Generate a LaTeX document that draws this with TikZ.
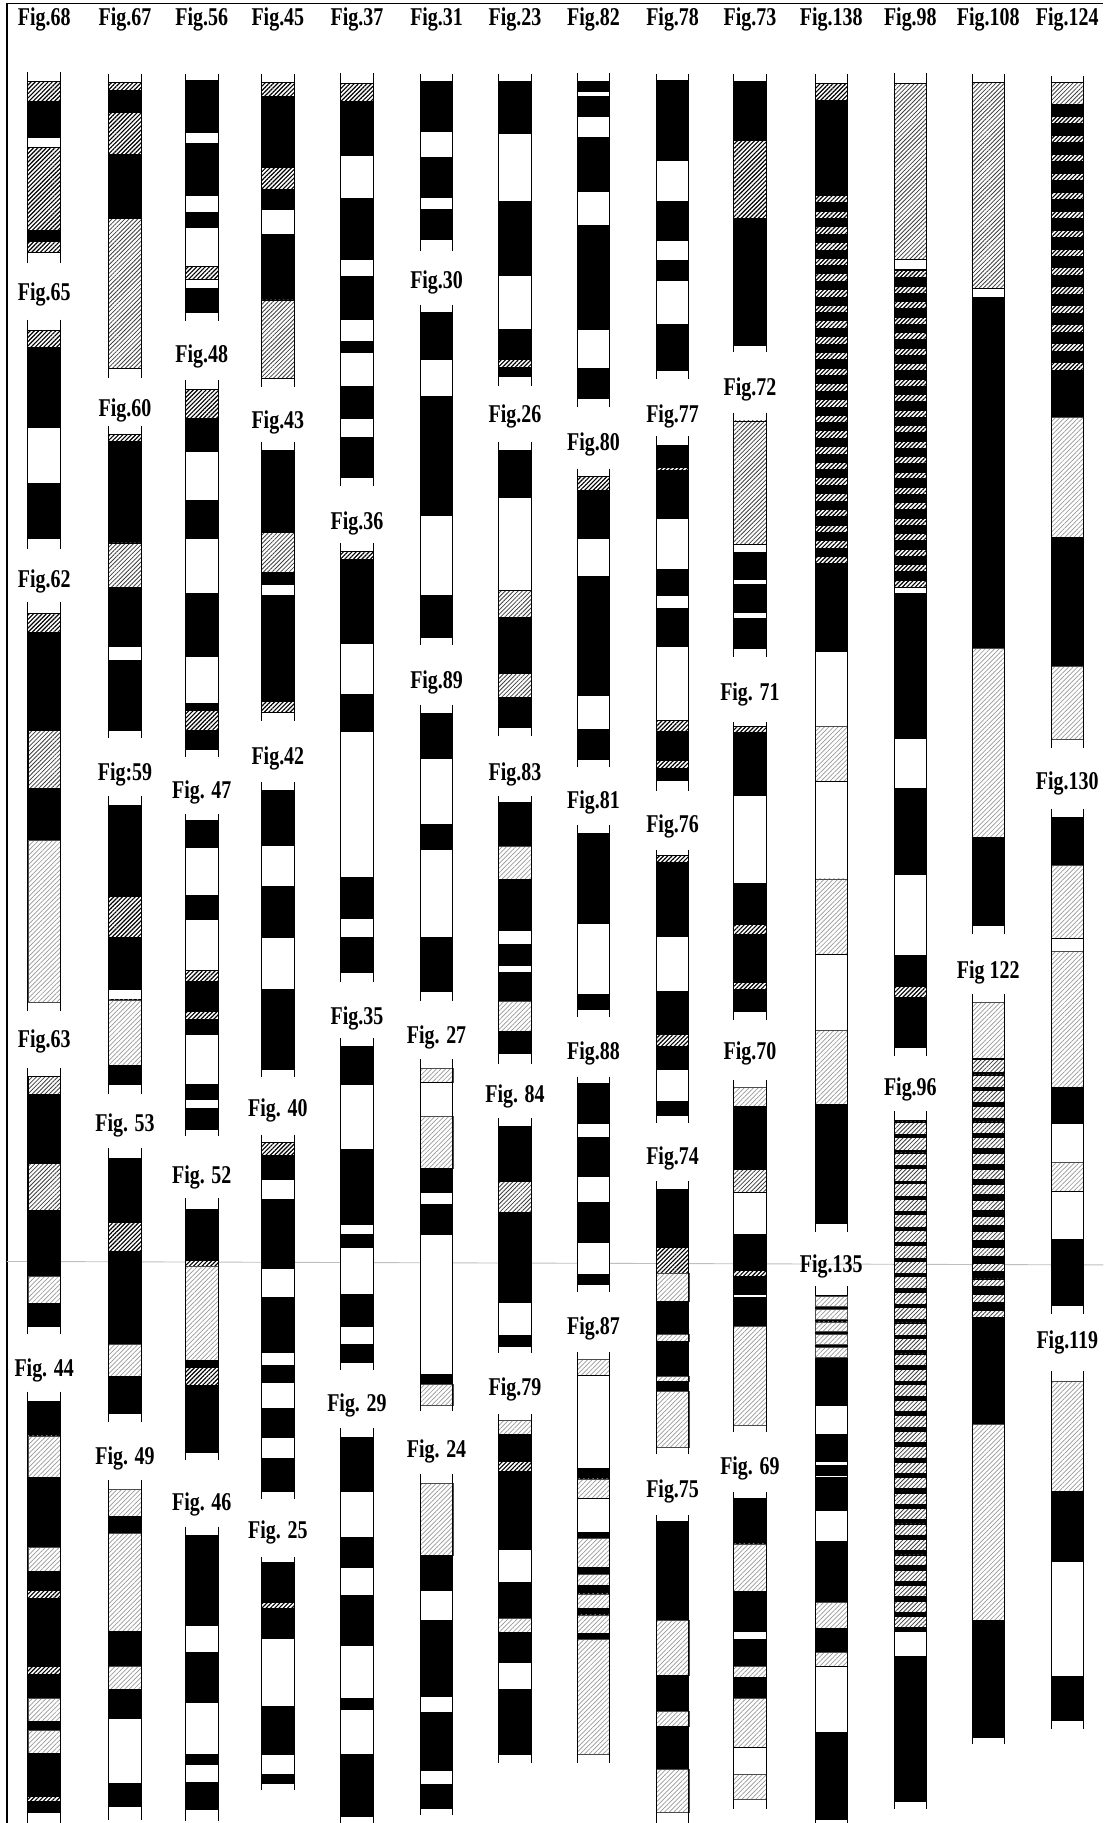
\documentclass[tikz,border=0pt]{standalone}
\usepackage{fontspec}
\newfontfamily\figfont{Liberation Serif}[FakeStretch=0.78]
\usepackage{tikz}
\usetikzlibrary{patterns.meta}

\begin{document}
\begin{tikzpicture}[x=0.5pt,y=-0.5pt,
  figlbl/.style={font=\figfont\bfseries\fontsize{11}{12}\selectfont,inner sep=0pt},
  rim/.style={line width=.4pt},
  blk/.style={draw=black,line width=.35pt,fill=black},
  wht/.style={draw=black,line width=.35pt,fill=white},
  hch/.style={draw=black,line width=.35pt,preaction={fill=white},
              pattern={Lines[angle=45,distance=1.3pt,line width=.5pt]}},
  med/.style={draw=black,line width=.3pt,preaction={fill=white},
              pattern={Lines[angle=45,distance=1.3pt,line width=.35pt]},pattern color=black!75},
  lgt/.style={draw=black!70,line width=.3pt,preaction={fill=white},
              pattern={Lines[angle=45,distance=1.4pt,line width=.3pt]},pattern color=black!40}]
  \useasboundingbox (0,0) rectangle (949,1568);
  % frame of the plate
  \draw[line width=.6pt] (6,1568) -- (6,3) -- (949,3);
  \draw[black!25,line width=.4pt] (6,1085) -- (949,1088);
  % the sections: centre / label y / name / label / ear top / ear bottom / layers
  \foreach \cx/\ly/\n/\t/\ea/\eb/\segs in {
     38/17/68/{Fig.68}/62/226/{hch/70/87,blk/87/118,wht/118/127,hch/127/198,blk/198/208,hch/208/217},
     38/253/65/{Fig.65}/275/472/{hch/284/299,blk/299/368,wht/368/416,blk/416/463},
     38/500/62/{Fig.62}/518/870/{hch/528/544,blk/544/628,med/628/678,blk/678/723,lgt/723/862},
     38/896/63/{Fig.63}/919/1147/{med/926/941,blk/941/1001,med/1001/1041,blk/1041/1098,lgt/1098/1121,blk/1121/1141},
     38/1179/44/{Fig. 44}/1197/1568/{blk/1205/1235,lgt/1235/1271,blk/1271/1331,lgt/1331/1352,blk/1352/1368,hch/1368/1375,blk/1375/1433,hch/1433/1440,blk/1440/1461,lgt/1461/1481,blk/1481/1488,lgt/1488/1508,blk/1508/1545,hch/1545/1549,blk/1549/1559},
     107.5/17/67/{Fig.67}/64/325/{hch/71/78,blk/78/97,hch/97/133,blk/133/188,med/188/317},
     107.5/353/60/{Fig.60}/366/635/{hch/374/380,blk/380/467,med/467/505,blk/505/556,wht/556/568,blk/568/628},
     107.5/666/59/{Fig:59}/685/941/{blk/693/771,hch/771/806,blk/806/851,wht/851/860,lgt/860/916,blk/916/933},
     107.5/968/53/{Fig. 53}/987/1223/{blk/996/1051,hch/1051/1076,blk/1076/1156,lgt/1156/1184,blk/1184/1216},
     107.5/1254/49/{Fig. 49}/1273/1565/{lgt/1281/1304,blk/1304/1319,lgt/1319/1403,blk/1403/1433,lgt/1433/1453,blk/1453/1478,wht/1478/1534,blk/1534/1554},
     173.5/17/56/{Fig.56}/64/276/{blk/69/114,wht/114/123,blk/123/168,wht/168/183,blk/183/196,wht/196/229,hch/229/240,wht/240/248,blk/248/269},
     173.5/307/48/{Fig.48}/327/651/{hch/335/360,blk/360/388,wht/388/430,blk/430/463,wht/463/510,blk/510/565,wht/565/605,blk/605/611,hch/611/628,blk/628/645},
     173.5/682/47/{Fig. 47}/700/977/{blk/706/729,wht/729/770,blk/770/791,wht/791/835,hch/835/844,blk/844/870,hch/870/877,blk/877/890,wht/890/933,blk/933/946,wht/946/953,blk/953/971},
     173.5/1013/52/{Fig. 52}/1030/1256/{blk/1040/1084,hch/1084/1089,lgt/1089/1170,blk/1170/1176,hch/1176/1192,blk/1192/1249},
     173.5/1294/46/{Fig. 46}/1313/1566/{blk/1321/1398,wht/1398/1421,blk/1421/1464,wht/1464/1509,blk/1509/1518,wht/1518/1533,blk/1533/1556},
     239/17/45/{Fig.45}/64/333/{hch/71/83,blk/83/144,hch/144/163,blk/163/180,wht/180/202,blk/202/258,med/258/325},
     239/363/43/{Fig.43}/380/620/{blk/387/458,med/458/492,blk/492/503,wht/503/512,blk/512/603,hch/603/613},
     239/652/42/{Fig.42}/673/926/{blk/680/727,wht/727/762,blk/762/806,wht/806/851,blk/851/920},
     239/955/40/{Fig. 40}/976/1289/{hch/983/994,blk/994/1014,wht/1014/1032,blk/1032/1091,wht/1091/1116,blk/1116/1163,wht/1163/1174,blk/1174/1189,wht/1189/1211,blk/1211/1236,wht/1236/1254,blk/1254/1283},
     239/1318/25/{Fig. 25}/1339/1540/{blk/1344/1378,hch/1378/1383,blk/1383/1409,wht/1409/1468,blk/1468/1509,wht/1509/1526,blk/1526/1534},
     307/17/37/{Fig.37}/63/418/{hch/72/87,blk/87/134,wht/134/171,blk/171/223,wht/223/238,blk/238/275,wht/275/294,blk/294/303,wht/303/332,blk/332/360,wht/360/376,blk/376/411},
     307/450/36/{Fig.36}/467/845/{hch/474/481,blk/481/553,wht/553/597,blk/597/629,wht/629/755,blk/755/790,wht/790/806,blk/806/836},
     307/876/35/{Fig.35}/893/1178/{blk/900/933,wht/933/989,blk/989/1053,wht/1053/1062,blk/1062/1073,wht/1073/1113,blk/1113/1141,wht/1141/1156,blk/1156/1172},
     307/1209/29/{Fig. 29}/1228/1568/{blk/1236/1283,wht/1283/1322,blk/1322/1348,wht/1348/1372,blk/1372/1415,wht/1415/1461,blk/1461/1470,wht/1470/1509,blk/1509/1562},
     375.5/17/31/{Fig.31}/64/216/{blk/70/113,wht/113/135,blk/135/170,wht/170/180,blk/180/206},
     375.5/243/30/{Fig.30}/262/555/{blk/269/309,wht/309/341,blk/341/443,wht/443/512,blk/512/548},
     375.5/587/89/{Fig.89}/606/861/{blk/614/652,wht/652/709,blk/709/731,wht/731/806,blk/806/853},
     375.5/892/27/{Fig. 27}/911/1214/{lgt/919/931,wht/931/960,lgt/960/1005,blk/1005/1026,wht/1026/1036,blk/1036/1062,wht/1062/1182,blk/1182/1191,lgt/1191/1209},
     375.5/1248/24/{Fig. 24}/1268/1561/{lgt/1276/1338,blk/1338/1368,wht/1368/1394,blk/1394/1459,wht/1459/1473,blk/1473/1523,wht/1523/1535,blk/1535/1555},
     443/17/23/{Fig.23}/64/332/{blk/70/115,wht/115/173,blk/173/237,wht/237/283,blk/283/309,hch/309/316,blk/316/324},
     443/358/26/{Fig.26}/380/633/{blk/387/428,wht/428/508,med/508/531,blk/531/579,med/579/600,blk/600/626},
     443/666/83/{Fig.83}/685/915/{blk/690/728,lgt/728/756,blk/756/800,wht/800/812,blk/812/830,wht/830/836,blk/836/861,lgt/861/887,blk/887/906},
     443/943/84/{Fig. 84}/962/1164/{blk/969/1016,med/1016/1043,blk/1043/1120,wht/1120/1149,blk/1149/1158},
     443/1195/79/{Fig.79}/1216/1516/{lgt/1222/1234,blk/1234/1257,hch/1257/1266,blk/1266/1333,wht/1333/1361,blk/1361/1392,lgt/1392/1404,blk/1404/1430,wht/1430/1453,blk/1453/1509},
     510.5/17/82/{Fig.82}/63/350/{blk/70/79,wht/79/83,blk/83/100,wht/100/118,blk/118/165,wht/165/194,blk/194/283,wht/283/317,blk/317/343},
     510.5/382/80/{Fig.80}/403/660/{hch/410/422,blk/422/463,wht/463/496,blk/496/598,wht/598/627,blk/627/653},
     510.5/690/81/{Fig.81}/710/875/{blk/717/794,wht/794/855,blk/855/868},
     510.5/906/88/{Fig.88}/926/1111/{blk/932/966,wht/966/978,blk/978/1012,wht/1012/1034,blk/1034/1069,wht/1069/1096,blk/1096/1105},
     510.5/1143/87/{Fig.87}/1163/1516/{lgt/1169/1183,wht/1183/1263,blk/1263/1272,lgt/1272/1289,wht/1289/1318,blk/1318/1323,lgt/1323/1348,blk/1348/1354,lgt/1354/1364,blk/1364/1371,lgt/1371/1383,blk/1383/1389,lgt/1389/1405,blk/1405/1410,lgt/1410/1509},
     578.5/17/78/{Fig.78}/64/326/{blk/69/138,wht/138/173,blk/173/207,wht/207/224,blk/224/241,wht/241/279,blk/279/319},
     578.5/358/77/{Fig.77}/375/680/{blk/383/402,hch/402/405,blk/405/446,wht/446/490,blk/490/512,wht/512/523,blk/523/556,wht/556/620,hch/620/629,blk/629/654,hch/654/661,blk/661/671},
     578.5/711/76/{Fig.76}/731/966/{hch/736/742,blk/742/805,wht/805/853,blk/853/890,hch/890/900,blk/900/920,wht/920/947,blk/947/959},
     578.5/996/74/{Fig.74}/1016/1251/{blk/1023/1073,hch/1073/1095,lgt/1095/1119,blk/1119/1148,lgt/1148/1154,blk/1154/1184,lgt/1184/1188,blk/1188/1197,lgt/1197/1245},
     578.5/1283/75/{Fig.75}/1303/1568/{blk/1309/1394,lgt/1394/1441,blk/1441/1472,lgt/1472/1485,blk/1485/1522,lgt/1522/1559},
     645/17/73/{Fig.73}/64/303/{blk/70/121,hch/121/188,blk/188/297},
     645/335/72/{Fig.72}/355/565/{med/362/468,wht/468/475,blk/475/498,wht/498/503,blk/503/527,wht/527/532,blk/532/558},
     645/597/71/{Fig. 71}/621/877/{hch/625/630,blk/630/684,wht/684/760,blk/760/795,hch/795/804,blk/804/845,hch/845/851,blk/851/870},
     645/906/70/{Fig.70}/929/1232/{lgt/935/952,blk/952/1006,med/1006/1026,wht/1026/1062,blk/1062/1093,hch/1093/1098,blk/1098/1113,wht/1113/1116,blk/1116/1141,lgt/1141/1226},
     645/1263/69/{Fig. 69}/1283/1556/{blk/1289/1328,lgt/1328/1369,blk/1369/1403,wht/1403/1410,blk/1410/1433,lgt/1433/1443,blk/1443/1461,lgt/1461/1503,wht/1503/1526,lgt/1526/1548},
     715/17/138/{Fig.138}/64/1060/{hch/72/86,blk/86/560,wht/560/625,lgt/625/672,wht/672/756,lgt/756/821,wht/821/886,lgt/886/950,blk/950/1052},
     715/1089/135/{Fig.135}/1106/1568/{blk/1114/1209,wht/1209/1234,blk/1234/1257,wht/1257/1260,blk/1260/1269,wht/1269/1271,blk/1271/1299,wht/1299/1326,blk/1326/1378,lgt/1378/1401,blk/1401/1421,lgt/1421/1433,wht/1433/1490,blk/1490/1565},
     783/17/98/{Fig.98}/63/908/{med/72/223,wht/223/232,blk/232/505,wht/505/510,blk/510/635,wht/635/678,blk/678/752,wht/752/822,blk/822/848,hch/848/858,blk/858/901},
     783/937/96/{Fig.96}/956/1556/{blk/964/1403,wht/1403/1425,blk/1425/1549},
     850/17/108/{Fig.108}/64/803/{med/71/248,wht/248/256,blk/256/558,lgt/558/720,blk/720/796},
     850/836/122/{Fig 122}/855/1500/{lgt/862/910,blk/910/1225,lgt/1225/1394,blk/1394/1494},
     918/17/124/{Fig.124}/65/643/{med/71/90,blk/90/359,lgt/359/462,blk/462/573,lgt/573/636},
     918/674/130/{Fig.130}/696/1130/{blk/703/744,lgt/744/807,wht/807/818,lgt/818/935,blk/935/966,wht/966/1000,lgt/1000/1025,wht/1025/1066,blk/1066/1123},
     918/1155/119/{Fig.119}/1179/1487/{lgt/1188/1283,blk/1283/1343,wht/1343/1442,blk/1442/1480}}{
    \node[figlbl] (fig\n) at (\cx,\ly) {\t};
    \foreach \c/\a/\b in \segs
      \path[\c] (\cx-14,\a) rectangle (\cx+14,\b);
    \draw[rim] (\cx-14,\ea) -- (\cx-14,\eb) (\cx+14,\ea) -- (\cx+14,\eb);
  }
  % banded runs: centre / first y / period / height / shrink / last / kind
  \foreach \cx/\y/\p/\h/\dh/\nk/\st in {715/168/13.5/6.5/0/23/hch,
                                        783/233/13.3/6/0/20/hch,
                                        918/100/16.3/6.5/0/13/hch,
                                        783/965/13.3/11/0.06/32/med,
                                        850/911/13.5/11/0.3/16/med,
                                        715/1115/11/8.5/0/4/lgt}{
    \foreach \k in {0,...,\nk}
      \path[\st] (\cx-14,\y+\p*\k) rectangle (\cx+14,\y+\p*\k+\h-\dh*\k);
  }
\end{tikzpicture}
\end{document}
